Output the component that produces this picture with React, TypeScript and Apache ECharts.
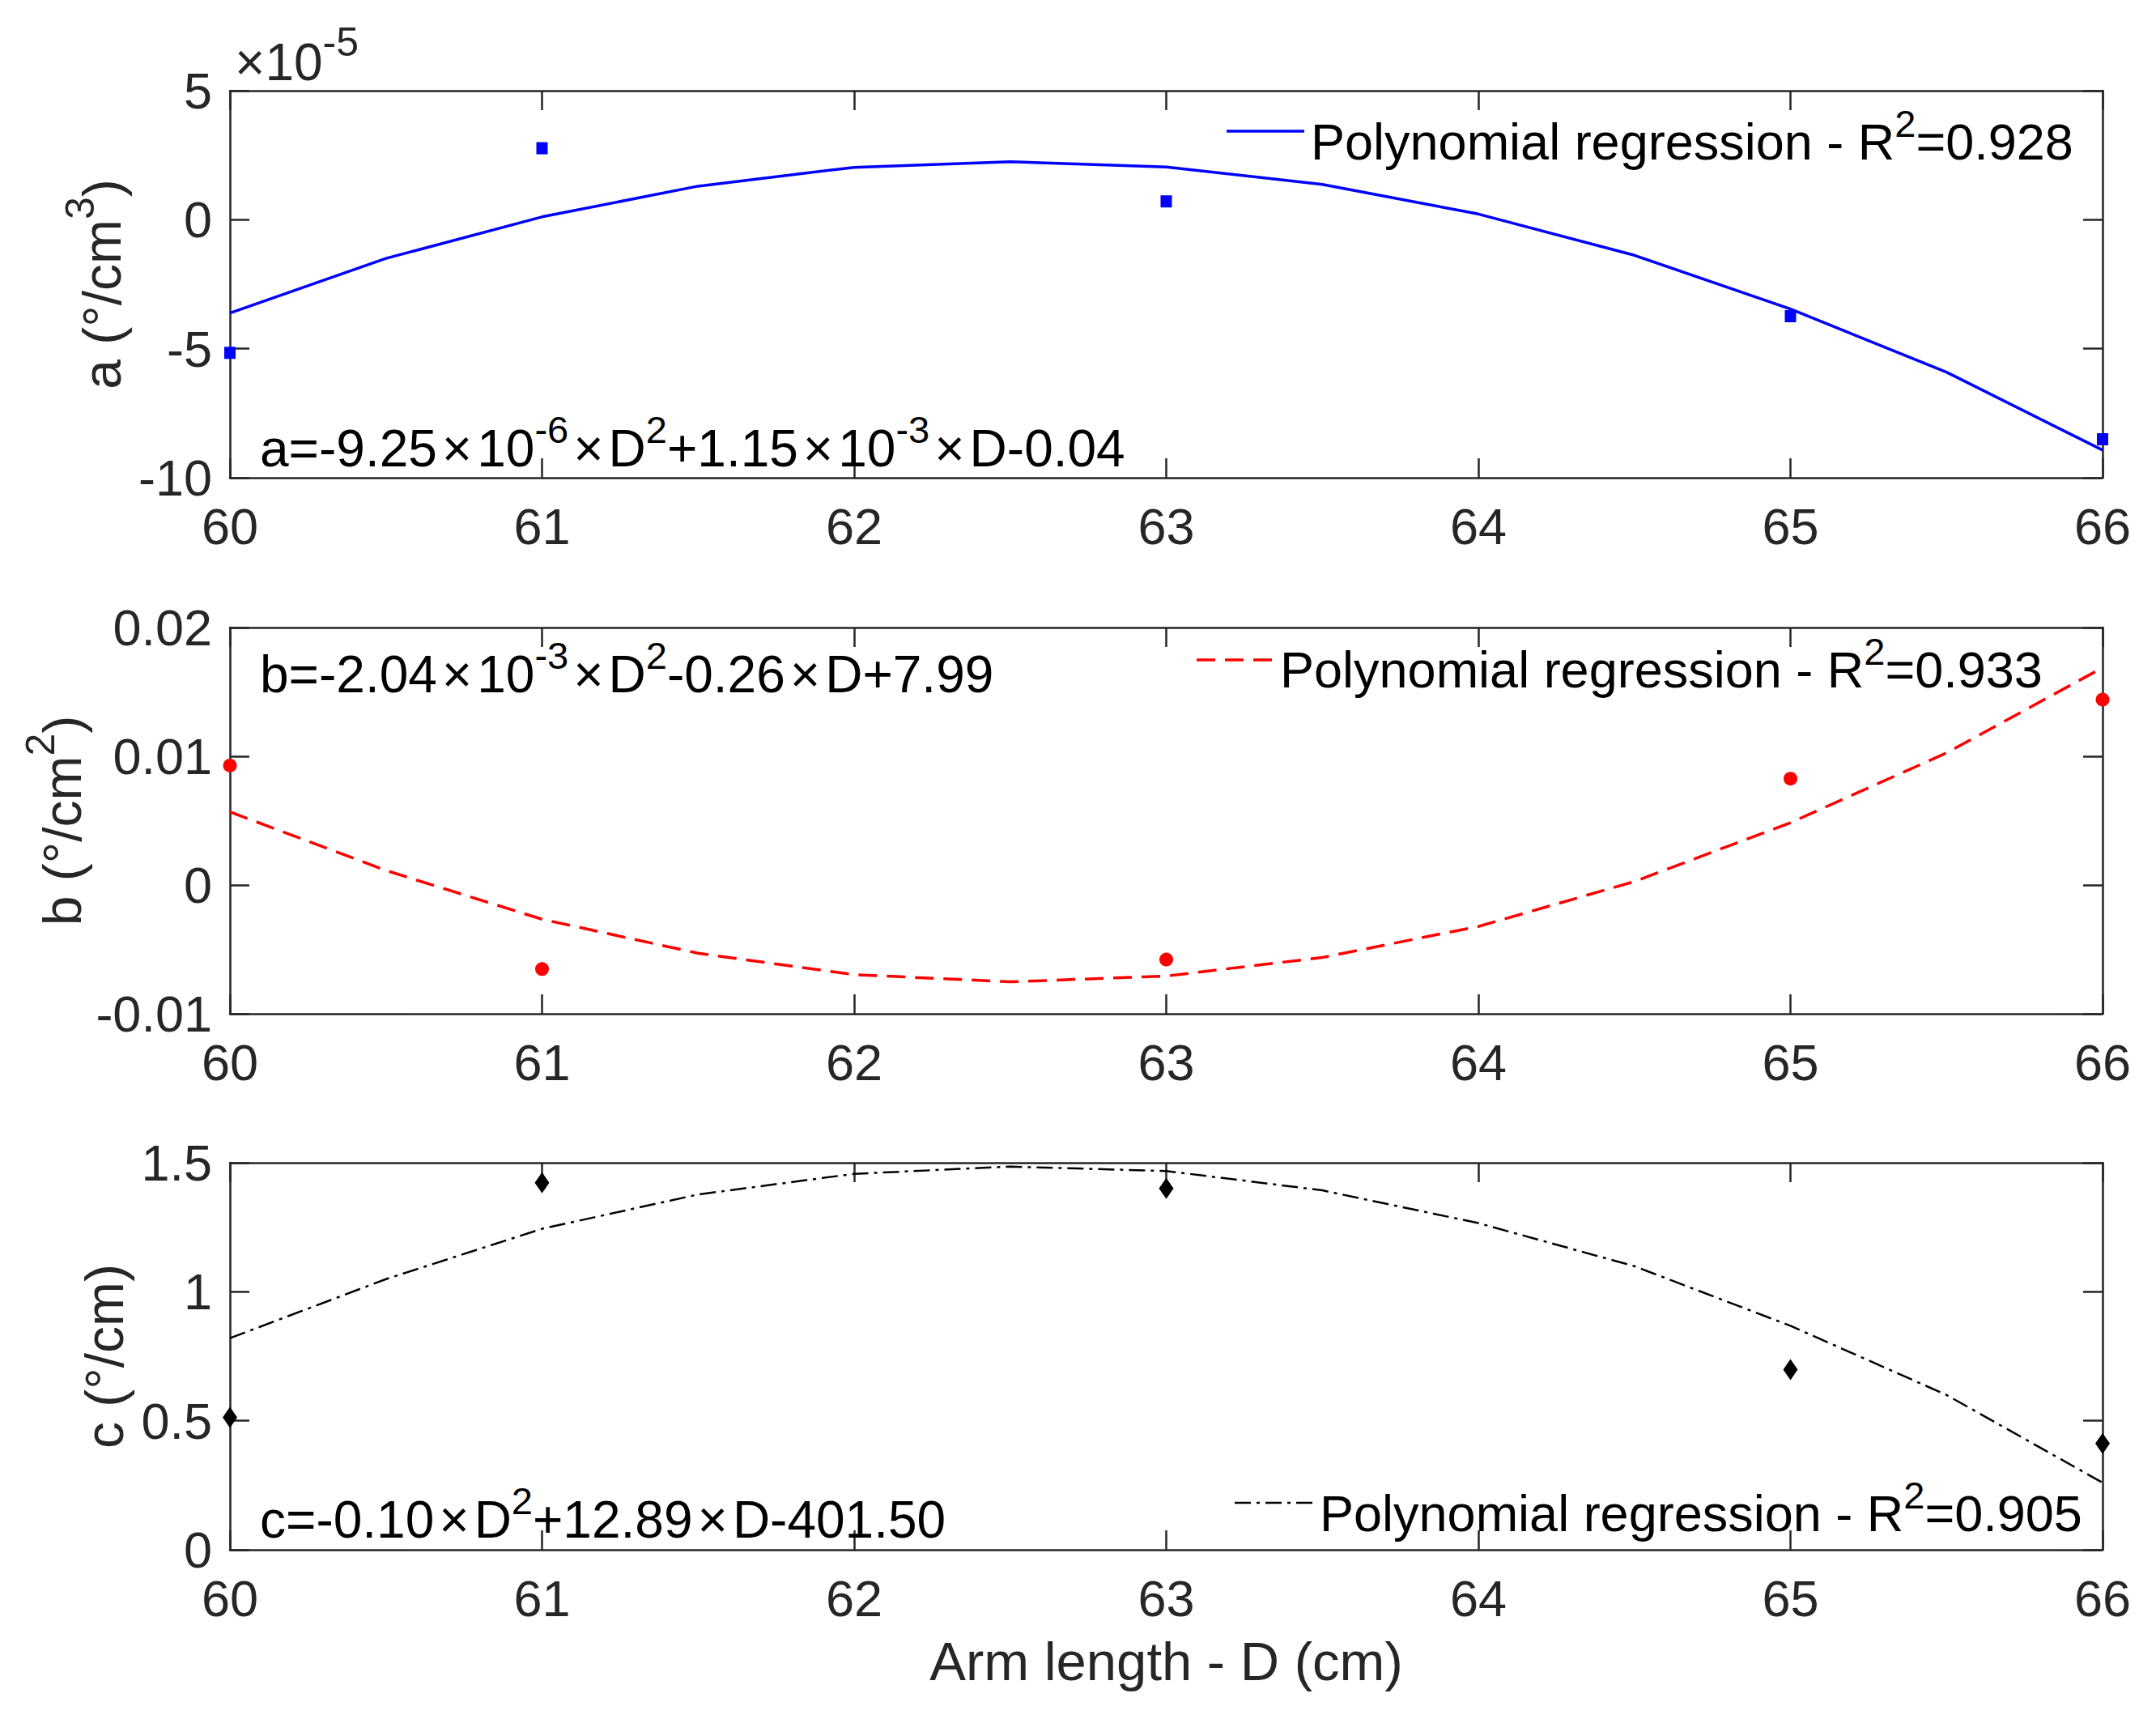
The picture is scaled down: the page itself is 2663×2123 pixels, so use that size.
import React, { useEffect, useRef } from "react";
import * as echarts from "echarts";

const FONT = '"Liberation Sans", Arial, Helvetica, sans-serif';
const AXIS_COLOR = "#262626";

// ---- data ----
const xTickValues = [60, 61, 62, 63, 64, 65, 66];
const xTickLabels = ["60", "61", "62", "63", "64", "65", "66"];
const measuredD = [60, 61, 63, 65, 66];
const fitD = [60, 60.5, 61, 61.5, 62, 62.5, 63, 63.5, 64, 64.5, 65, 65.5, 66];

// a in units of 1e-5 °/cm^3
const aMeasured = [-5.16, 2.77, 0.71, -3.74, -8.51];
const aFit = [-3.62, -1.5, 0.11, 1.3, 2.03, 2.25, 2.04, 1.37, 0.22, -1.38, -3.46, -5.91, -8.93];
const bMeasured = [0.00928, -0.00653, -0.00579, 0.00826, 0.0144];
const bFit = [0.00568, 0.00113, -0.00266, -0.0053, -0.00696, -0.00752, -0.00707, -0.00563, -0.00322, 0.00027, 0.00484, 0.01026, 0.01688];
const cMeasured = [0.513, 1.422, 1.4, 0.698, 0.412];
const cFit = [0.82, 1.049, 1.244, 1.377, 1.457, 1.485, 1.468, 1.393, 1.266, 1.099, 0.868, 0.6, 0.26];

const aTickValues = [-10, -5, 0, 5];
const aTickLabels = ["-10", "-5", "0", "5"];
const bTickValues = [-0.01, 0, 0.01, 0.02];
const bTickLabels = ["-0.01", "0", "0.01", "0.02"];
const cTickValues = [0, 0.5, 1, 1.5];
const cTickLabels = ["0", "0.5", "1", "1.5"];

const rSquared = ["0.928", "0.933", "0.905"];
const equations = [
  "{m|a=-9.25}{x|×}{m|10}{s|-6}{x|×}{m|D}{s|2}{m|+1.15}{x|×}{m|10}{s|-3}{x|×}{m|D-0.04}",
  "{m|b=-2.04}{x|×}{m|10}{s|-3}{x|×}{m|D}{s|2}{m|-0.26}{x|×}{m|D+7.99}",
  "{m|c=-0.10}{x|×}{m|D}{s|2}{m|+12.89}{x|×}{m|D-401.50}",
];
const yNames = [
  "{m|a (°/cm}{s|3}{m|)}",
  "{m|b (°/cm}{s|2}{m|)}",
  "{m|c (°/cm)}",
];
const xName = "Arm length - D (cm)";
const aMultiplier = "{m|×10}{s|-5}";

const labelFor = (values: number[], labels: string[]) => (v: number) => {
  let best = 0;
  for (let i = 0; i < values.length; i++) {
    if (Math.abs(values[i] - v) < Math.abs(values[best] - v)) best = i;
  }
  return labels[best];
};

const GRID_LEFT = 284;
const GRID_WIDTH = 2313;

const panels = [
  {
    top: 112, height: 478, ticks: aTickValues, labels: aTickLabels, interval: 5,
    measured: aMeasured, fit: aFit, color: "#0000FF", symbol: "rect", symbolSize: [14, 15],
    lineWidth: 3.5, lineType: "solid" as any, nameGap: 107,
    legendLine: { x1: 1515, x2: 1611, y: 162 }, legendText: { x: 1619, baseline: 197 },
    eq: { x: 321, baseline: 576 },
  },
  {
    top: 775, height: 477, ticks: bTickValues, labels: bTickLabels, interval: 0.01,
    measured: bMeasured, fit: bFit, color: "#FF0000", symbol: "circle", symbolSize: 17,
    lineWidth: 3.5, lineType: [23, 12] as any, nameGap: 156,
    legendLine: { x1: 1478, x2: 1573, y: 815 }, legendText: { x: 1581, baseline: 849 },
    eq: { x: 321, baseline: 855 },
  },
  {
    top: 1436, height: 478, ticks: cTickValues, labels: cTickLabels, interval: 0.5,
    measured: cMeasured, fit: cFit, color: "#000000", symbol: "diamond", symbolSize: [18, 26],
    lineWidth: 2.5, lineType: [20, 7, 4, 7] as any, nameGap: 104,
    legendLine: { x1: 1525, x2: 1622, y: 1856 }, legendText: { x: 1630, baseline: 1891 },
    eq: { x: 321, baseline: 1899 },
  },
];

const SUP = 47;
const LINE_H = 93;

function richStyle(main: number) {
  return {
    m: { fontSize: main, fontFamily: FONT, fill: "#000", lineHeight: LINE_H },
    x: { fontSize: main, fontFamily: FONT, fill: "#000", lineHeight: LINE_H, padding: [0, 6, 0, 6] },
    s: { fontSize: SUP, fontFamily: FONT, fill: "#000", lineHeight: SUP, verticalAlign: "top" },
  };
}

function richText(x: number, baseline: number, text: string, main: number) {
  const y = baseline - (LINE_H / 2 + 0.3465 * main);
  return {
    type: "text",
    x,
    y,
    z: 100,
    silent: true,
    style: {
      text,
      fill: "#000",
      fontSize: main,
      fontFamily: FONT,
      align: "left",
      verticalAlign: "top",
      textAlign: "left",
      textVerticalAlign: "top",
      rich: richStyle(main),
    },
  };
}

export default function App() {
  const ref = useRef<HTMLDivElement>(null);

  useEffect(() => {
    if (!ref.current) return;
    const chart = echarts.init(ref.current, undefined, { renderer: "svg" });

    const axisLine = { show: true, onZero: false, lineStyle: { color: AXIS_COLOR, width: 2.5 } };
    const axisTick = { show: true, inside: true, length: 24, lineStyle: { color: AXIS_COLOR, width: 2.5 } };

    const grid: any[] = [];
    const xAxis: any[] = [];
    const yAxis: any[] = [];
    const series: any[] = [];
    const graphic: any[] = [];

    panels.forEach((p, i) => {
      grid.push({ left: GRID_LEFT, top: p.top, width: GRID_WIDTH, height: p.height, containLabel: false, outerBoundsMode: "none" });
      const xBase = {
        type: "value", gridIndex: i, min: xTickValues[0], max: xTickValues[xTickValues.length - 1], interval: 1,
        axisLine, axisTick, splitLine: { show: false },
      };
      xAxis.push({
        ...xBase,
        position: "bottom",
        axisLabel: { show: true, color: AXIS_COLOR, fontSize: 63, fontFamily: FONT, margin: 28, formatter: labelFor(xTickValues, xTickLabels) },
        ...(i === 2
          ? {
              name: xName, nameLocation: "middle", nameGap: 104, nameMoveOverlap: false,
              nameTextStyle: { color: AXIS_COLOR, fontSize: 67, fontFamily: FONT },
            }
          : {}),
      });
      xAxis.push({ ...xBase, position: "top", axisLabel: { show: false } });

      const yBase = {
        type: "value", gridIndex: i, min: p.ticks[0], max: p.ticks[p.ticks.length - 1], interval: p.interval,
        axisLine, axisTick, splitLine: { show: false },
      };
      yAxis.push({
        ...yBase,
        position: "left",
        axisLabel: { show: true, color: AXIS_COLOR, fontSize: 63, fontFamily: FONT, margin: 22, formatter: labelFor(p.ticks, p.labels) },
        name: yNames[i],
        nameLocation: "middle",
        nameRotate: 90,
        nameGap: p.nameGap,
        nameMoveOverlap: false,
        nameTextStyle: {
          color: AXIS_COLOR,
          rich: {
            m: { fontSize: 66, fontFamily: FONT, color: AXIS_COLOR, lineHeight: 103 },
            s: { fontSize: 50, fontFamily: FONT, color: AXIS_COLOR, lineHeight: 50, verticalAlign: "top" },
          },
        },
      });
      yAxis.push({ ...yBase, position: "right", axisLabel: { show: false } });

      series.push({
        type: "line",
        xAxisIndex: 2 * i,
        yAxisIndex: 2 * i,
        data: fitD.map((d, k) => [d, p.fit[k]]),
        showSymbol: false,
        symbol: "none",
        smooth: false,
        clip: false,
        silent: true,
        lineStyle: { color: p.color, width: p.lineWidth, type: p.lineType, opacity: 1 },
        z: 2,
      });
      series.push({
        type: "scatter",
        xAxisIndex: 2 * i,
        yAxisIndex: 2 * i,
        data: measuredD.map((d, k) => [d, p.measured[k]]),
        symbol: p.symbol,
        symbolSize: p.symbolSize,
        clip: false,
        itemStyle: { color: p.color, opacity: 1 },
        emphasis: { disabled: true },
        z: 3,
      });

      graphic.push({
        type: "line",
        silent: true,
        z: 100,
        shape: { x1: p.legendLine.x1, y1: p.legendLine.y, x2: p.legendLine.x2, y2: p.legendLine.y },
        style: {
          stroke: p.color,
          lineWidth: p.lineWidth,
          lineDash: Array.isArray(p.lineType) ? p.lineType : null,
        },
      });
      graphic.push(richText(p.legendText.x, p.legendText.baseline, `{m|Polynomial regression - R}{s|2}{m|=${rSquared[i]}}`, 63));
      graphic.push(richText(p.eq.x, p.eq.baseline, equations[i], 64));
    });

    // ×10^-5 multiplier of the top panel
    graphic.push({
      type: "text",
      x: 290,
      y: 99 - (100 / 2 + 0.3465 * 64),
      z: 100,
      silent: true,
      style: {
        text: aMultiplier,
        fill: AXIS_COLOR,
        fontSize: 64,
        fontFamily: FONT,
        align: "left",
        verticalAlign: "top",
        textAlign: "left",
        textVerticalAlign: "top",
        rich: {
          m: { fontSize: 64, fontFamily: FONT, fill: AXIS_COLOR, lineHeight: 100 },
          s: { fontSize: 50, fontFamily: FONT, fill: AXIS_COLOR, lineHeight: 50, verticalAlign: "top" },
        },
      },
    });

    chart.setOption({
      animation: false,
      backgroundColor: "#ffffff",
      grid,
      xAxis,
      yAxis,
      series,
      graphic,
    });

    return () => chart.dispose();
  }, []);

  return (
    <div
      ref={ref}
      style={{ position: "absolute", left: 0, top: 0, width: 2663, height: 2123, background: "#fff" }}
    />
  );
}
